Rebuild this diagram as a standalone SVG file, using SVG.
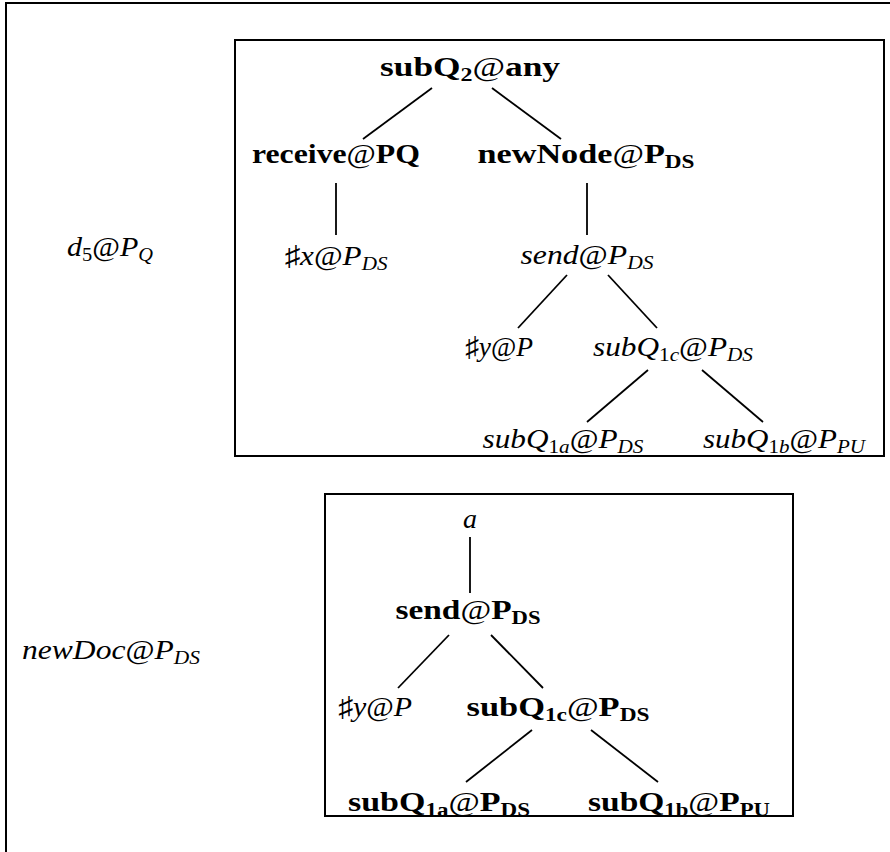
<svg xmlns="http://www.w3.org/2000/svg" width="890" height="852" viewBox="0 0 890 852">
<style>
.t{font-family:"Liberation Serif","DejaVu Serif",serif;font-size:28px;fill:#000;text-anchor:middle}
.i{font-style:italic}
.b{font-weight:bold}
.r{font-style:normal;font-weight:normal}
.s{font-size:19px}
.frame{fill:none;stroke:#000;stroke-width:2}
.c line{stroke:#000;stroke-width:1.8}
</style>
<rect width="890" height="852" fill="#fff"/>
<path class="frame" d="M6,852 V3 H890"/>
<rect class="frame" x="235" y="40" width="649" height="416"/>
<rect class="frame" x="325" y="494" width="468" height="322"/>

<g id="conn" class="c">
<line x1="432" y1="88" x2="363" y2="139"/>
<line x1="492" y1="88" x2="561" y2="139"/>
<line x1="336" y1="183" x2="336" y2="235"/>
<line x1="587" y1="183" x2="587" y2="235"/>
<line x1="567" y1="275" x2="518" y2="328"/>
<line x1="608" y1="275" x2="657" y2="328"/>
<line x1="648" y1="370" x2="587" y2="422"/>
<line x1="702" y1="370" x2="763" y2="422"/>
<line x1="470" y1="537" x2="470" y2="593"/>
<line x1="449" y1="635" x2="398" y2="688"/>
<line x1="491" y1="635" x2="543" y2="688"/>
<line x1="532" y1="730" x2="466" y2="782"/>
<line x1="591" y1="730" x2="658" y2="782"/>
</g>

<g id="d5">
<text class="t i" x="110" y="256" textLength="86" lengthAdjust="spacingAndGlyphs">d<tspan class="s r" dy="5">5</tspan><tspan class="r" dy="-5">@</tspan>P<tspan class="s" dy="5">Q</tspan></text>
</g>
<g id="newDoc">
<text class="t i" x="111" y="659" textLength="178" lengthAdjust="spacingAndGlyphs">newDoc<tspan class="r">@</tspan>P<tspan class="s" dy="5">DS</tspan></text>
</g>

<g id="subQ2">
<text class="t b" x="470" y="76" textLength="180" lengthAdjust="spacingAndGlyphs">subQ<tspan class="s" dy="5">2</tspan><tspan class="r" dy="-5">@</tspan>any</text>
</g>
<g id="receive">
<text class="t b" x="336" y="163" textLength="168" lengthAdjust="spacingAndGlyphs">receive<tspan class="r">@</tspan>PQ</text>
</g>
<g id="newNode">
<text class="t b" x="586" y="163" textLength="217" lengthAdjust="spacingAndGlyphs">newNode<tspan class="r">@</tspan>P<tspan class="s" dy="5">DS</tspan></text>
</g>
<g id="sharpx">
<text class="t i" x="336" y="265" textLength="103" lengthAdjust="spacingAndGlyphs"><tspan class="r">♯</tspan>x<tspan class="r">@</tspan>P<tspan class="s" dy="5">DS</tspan></text>
</g>
<g id="send1">
<text class="t i" x="587" y="264" textLength="133" lengthAdjust="spacingAndGlyphs">send<tspan class="r">@</tspan>P<tspan class="s" dy="5">DS</tspan></text>
</g>
<g id="sharpy1">
<text class="t i" x="499" y="356" textLength="68" lengthAdjust="spacingAndGlyphs"><tspan class="r">♯</tspan>y<tspan class="r">@</tspan>P</text>
</g>
<g id="subQ1c1">
<text class="t i" x="673" y="356" textLength="160" lengthAdjust="spacingAndGlyphs">subQ<tspan class="s" dy="5"><tspan class="r">1</tspan>c</tspan><tspan class="r" dy="-5">@</tspan>P<tspan class="s" dy="5">DS</tspan></text>
</g>
<g id="subQ1a1">
<text class="t i" x="563" y="448" textLength="161" lengthAdjust="spacingAndGlyphs">subQ<tspan class="s" dy="5"><tspan class="r">1</tspan>a</tspan><tspan class="r" dy="-5">@</tspan>P<tspan class="s" dy="5">DS</tspan></text>
</g>
<g id="subQ1b1">
<text class="t i" x="784" y="448" textLength="162" lengthAdjust="spacingAndGlyphs">subQ<tspan class="s" dy="5"><tspan class="r">1</tspan>b</tspan><tspan class="r" dy="-5">@</tspan>P<tspan class="s" dy="5">PU</tspan></text>
</g>

<g id="a">
<text class="t i" x="470" y="528">a</text>
</g>
<g id="send2">
<text class="t b" x="468" y="619" textLength="145" lengthAdjust="spacingAndGlyphs">send<tspan class="r">@</tspan>P<tspan class="s" dy="5">DS</tspan></text>
</g>
<g id="sharpy2">
<text class="t i" x="375" y="716" textLength="74" lengthAdjust="spacingAndGlyphs"><tspan class="r">♯</tspan>y<tspan class="r">@</tspan>P</text>
</g>
<g id="subQ1c2">
<text class="t b" x="558" y="716" textLength="183" lengthAdjust="spacingAndGlyphs">subQ<tspan class="s" dy="5">1c</tspan><tspan class="r" dy="-5">@</tspan>P<tspan class="s" dy="5">DS</tspan></text>
</g>
<g id="subQ1a2">
<text class="t b" x="439" y="811" textLength="182" lengthAdjust="spacingAndGlyphs">subQ<tspan class="s" dy="5">1a</tspan><tspan class="r" dy="-5">@</tspan>P<tspan class="s" dy="5">DS</tspan></text>
</g>
<g id="subQ1b2">
<text class="t b" x="679" y="811" textLength="182" lengthAdjust="spacingAndGlyphs">subQ<tspan class="s" dy="5">1b</tspan><tspan class="r" dy="-5">@</tspan>P<tspan class="s" dy="5">PU</tspan></text>
</g>
</svg>
